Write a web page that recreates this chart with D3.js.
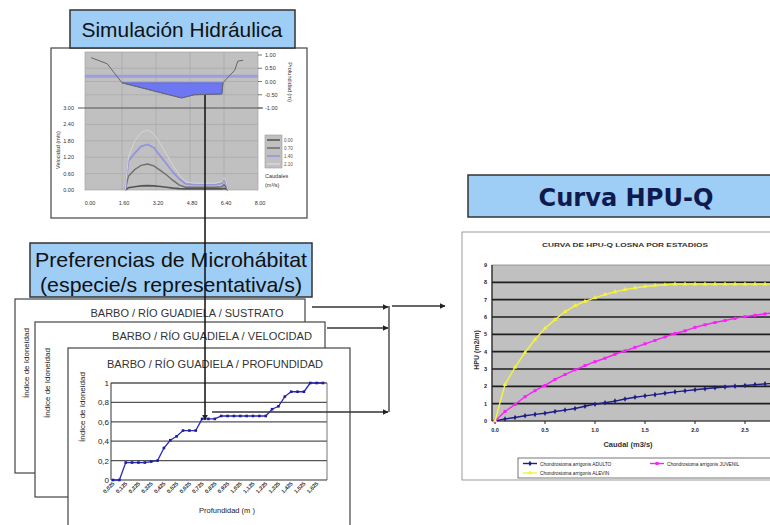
<!DOCTYPE html>
<html>
<head>
<meta charset="utf-8">
<script src="https://cdn.jsdelivr.net/npm/d3@7"></script>
<style>
  body { margin: 0; background: #fff; }
  svg { display: block; font-family: "Liberation Sans", Arial, sans-serif; }
</style>
</head>
<body>
<div id="chart"></div>
<script>
// ---- hydraulic simulation data ----
const hydXTicks = [0, 1.6, 3.2, 4.8, 6.4, 8];
const hydXLabels = ["0.00", "1.60", "3.20", "4.80", "6.40", "8.00"];
const depthTicks = [1, 0.5, 0, -0.5, -1];
const depthLabels = ["1.00", "0.50", "0.00", "-0.50", "-1.00"];
const velTicks = [3, 2.4, 1.8, 1.2, 0.6, 0];
const velLabels = ["3.00", "2.40", "1.80", "1.20", "0.60", "0.00"];

const terrainX = [0.15, 0.9, 1.6, 4.4, 5.0, 6.3, 6.35, 6.6, 6.9, 7.05, 7.3];
const terrainZ = [0.9, 0.67, -0.05, -0.62, -0.5, -0.47, -0.05, 0.17, 0.42, 0.77, 0.8];
const waterX = [1.6, 4.4, 5.0, 6.3, 6.35];
const waterZ = [-0.05, -0.62, -0.5, -0.47, -0.05];
const waterSurface = -0.05;
const bandLevel = 0.2;

const velX = [1.75, 1.9, 2.2, 2.5, 2.8, 3.1, 3.4, 3.7, 4.0, 4.3, 4.6, 5.0, 5.5, 6.0, 6.3, 6.4, 6.5, 6.6];
const flows = ["0.00", "0.70", "1.40", "2.10"];
const vel000 = [0, 0.08, 0.12, 0.15, 0.16, 0.15, 0.13, 0.1, 0.07, 0.05, 0.04, 0.04, 0.04, 0.04, 0.04, 0.06, 0.04, 0];
const vel070 = [0, 0.5, 0.75, 0.9, 0.95, 0.88, 0.72, 0.55, 0.35, 0.18, 0.1, 0.1, 0.1, 0.1, 0.12, 0.2, 0.1, 0];
const vel140 = [0, 1.05, 1.35, 1.6, 1.67, 1.55, 1.25, 0.95, 0.65, 0.4, 0.22, 0.2, 0.2, 0.2, 0.25, 0.4, 0.25, 0];
const vel210 = [0, 1.2, 1.8, 2.1, 2.2, 2.05, 1.7, 1.3, 0.9, 0.55, 0.3, 0.25, 0.25, 0.25, 0.3, 0.45, 0.3, 0];

// ---- microhabitat preference (depth) ----
const profCats = ["0,025","0,075","0,125","0,175","0,225","0,275","0,325","0,375","0,425","0,475",
  "0,525","0,575","0,625","0,675","0,725","0,775","0,825","0,875","0,925","0,975",
  "1,025","1,075","1,125","1,175","1,225","1,275","1,325","1,375","1,425","1,475",
  "1,525","1,575","1,625","1,675"];
const profIndex = [0, 0, 0.18, 0.18, 0.18, 0.18, 0.19, 0.2, 0.33, 0.41, 0.45, 0.51, 0.51, 0.51,
  0.63, 0.63, 0.63, 0.66, 0.66, 0.66, 0.66, 0.66, 0.66, 0.66, 0.66, 0.73, 0.76, 0.86, 0.91, 0.91, 0.91, 1, 1, 1];
const profYTicks = [0, 0.2, 0.4, 0.6, 0.8, 1];
const profYLabels = ["0", "0,2", "0,4", "0,6", "0,8", "1"];

// ---- HPU-Q curves ----
const hpuQ = [0,0.1,0.2,0.3,0.4,0.5,0.6,0.7,0.8,0.9,1.0,1.1,1.2,1.3,1.4,1.5,1.6,1.7,1.8,1.9,2.0,2.1,2.2,2.3,2.4,2.5,2.6,2.7,2.8];
const hpuAdulto = [0,0.12,0.2,0.3,0.38,0.45,0.55,0.63,0.72,0.85,0.97,1.05,1.15,1.27,1.37,1.45,1.52,1.6,1.68,1.74,1.8,1.86,1.92,1.96,2.01,2.05,2.1,2.14,2.17];
const hpuJuvenil = [0,0.55,0.95,1.4,1.75,2.05,2.4,2.68,2.95,3.2,3.42,3.62,3.85,4.05,4.25,4.45,4.65,4.85,5.05,5.2,5.4,5.55,5.68,5.8,5.92,6.02,6.1,6.18,6.25];
const hpuAlevin = [0,2.1,3.1,3.95,4.7,5.35,5.85,6.3,6.65,6.9,7.1,7.3,7.45,7.58,7.68,7.76,7.82,7.86,7.9,7.9,7.9,7.9,7.9,7.9,7.9,7.9,7.9,7.9,7.9];
const hpuSeries = ["Chondrostoma arrigonis  ADULTO", "Chondrostoma arrigonis  JUVENIL", "Chondrostoma arrigonis  ALEVIN"];
const hpuYTicks = [0,1,2,3,4,5,6,7,8,9];
const hpuXTicks = [0, 0.5, 1, 1.5, 2, 2.5];
const hpuXLabels = ["0.0", "0.5", "1.0", "1.5", "2.0", "2.5"];

const svg = d3.select("#chart").append("svg")
  .attr("width", 770).attr("height", 525);

const titleBlue = "#9ecdf6";

// helper for title boxes
const titleBox = (x, y, w, h) => svg.append("rect")
  .attr("x", x).attr("y", y).attr("width", w).attr("height", h)
  .attr("fill", titleBlue).attr("stroke", "#333").attr("stroke-width", 1.5);

// ================= Hydraulic simulation panel =================
svg.append("rect").attr("x", 51).attr("y", 48).attr("width", 256).attr("height", 170)
  .attr("fill", "#fff").attr("stroke", "#444").attr("stroke-width", 1.2);

const hx = d3.scaleLinear().domain([0, 8]).range([88, 258]);
const dy = d3.scaleLinear().domain([-1, 1]).range([108, 55]);
const vy = d3.scaleLinear().domain([0, 3]).range([190, 108]);

const hyd = svg.append("g");
hyd.append("rect").attr("x", 85).attr("y", 52).attr("width", 173).attr("height", 138)
  .attr("fill", "#c0c0c0").attr("stroke", "#999").attr("stroke-width", 0.6);

// gridlines
hyd.selectAll(".vg").data(hydXTicks.slice(1, -1)).join("line")
  .attr("x1", d => hx(d)).attr("x2", d => hx(d)).attr("y1", 52).attr("y2", 190)
  .attr("stroke", "#a9a9a9").attr("stroke-width", 0.8);
hyd.selectAll(".dg").data(depthTicks.slice(1, -1)).join("line")
  .attr("x1", 85).attr("x2", 258).attr("y1", d => dy(d)).attr("y2", d => dy(d))
  .attr("stroke", "#a9a9a9").attr("stroke-width", 0.8);
hyd.selectAll(".vgl").data(velTicks.slice(1, -1)).join("line")
  .attr("x1", 85).attr("x2", 258).attr("y1", d => vy(d)).attr("y2", d => vy(d))
  .attr("stroke", "#a9a9a9").attr("stroke-width", 0.8);

// water-level band
hyd.append("line").attr("x1", 85).attr("x2", 258)
  .attr("y1", dy(bandLevel)).attr("y2", dy(bandLevel))
  .attr("stroke", "#9d9de0").attr("stroke-width", 3);

// water body
const waterPts = waterX.map((x, i) => [hx(x), dy(waterZ[i])]);
hyd.append("path")
  .attr("d", d3.line()(waterPts.concat([[hx(waterX[waterX.length - 1]), dy(waterSurface)], [hx(waterX[0]), dy(waterSurface)]])) + "Z")
  .attr("fill", "#6d77f2").attr("stroke", "#5560e0").attr("stroke-width", 0.8);

// terrain profile
hyd.append("path")
  .attr("d", d3.line()(terrainX.map((x, i) => [hx(x), dy(terrainZ[i])])))
  .attr("fill", "none").attr("stroke", "#666").attr("stroke-width", 1);

// separator line between depth and velocity charts
hyd.append("line").attr("x1", 78).attr("x2", 263).attr("y1", 108).attr("y2", 108)
  .attr("stroke", "#555").attr("stroke-width", 1.2);

// velocity curves
const velColors = ["#555", "#6e6e6e", "#9494dc", "#d6d6d6"];
const velWidths = [1.6, 1.4, 1.8, 1];
[vel000, vel070, vel140, vel210].forEach((s, k) => {
  hyd.append("path")
    .attr("d", d3.line()(velX.map((x, i) => [hx(x), vy(s[i])])))
    .attr("fill", "none").attr("stroke", velColors[k]).attr("stroke-width", velWidths[k]);
});

// axes labels
const tiny = (sel) => sel.attr("font-size", 5.5).attr("fill", "#333");
hyd.selectAll(".xl").data(hydXTicks).join("text")
  .attr("x", d => hx(d) + 2).attr("y", 205).attr("text-anchor", "middle")
  .text((d, i) => hydXLabels[i]).call(tiny);
hyd.selectAll(".vl").data(velTicks).join("text")
  .attr("x", 74).attr("y", d => vy(d) + 2).attr("text-anchor", "end")
  .text((d, i) => velLabels[i]).call(tiny);
hyd.selectAll(".dl").data(depthTicks).join("text")
  .attr("x", 265).attr("y", d => dy(d) + 2)
  .text((d, i) => depthLabels[i]).call(tiny);
hyd.selectAll(".dt").data(depthTicks).join("line")
  .attr("x1", 258).attr("x2", 262).attr("y1", d => dy(d)).attr("y2", d => dy(d))
  .attr("stroke", "#555").attr("stroke-width", 0.8);
hyd.append("text").attr("transform", "translate(60,150) rotate(-90)")
  .attr("text-anchor", "middle").text("Velocidad (m/s)").call(tiny);
hyd.append("text").attr("transform", "translate(288,82) rotate(90)")
  .attr("text-anchor", "middle").text("Profundidad (m)").call(tiny);

// legend
hyd.append("rect").attr("x", 265).attr("y", 135).attr("width", 17).attr("height", 33)
  .attr("fill", "#c0c0c0").attr("stroke", "#999").attr("stroke-width", 0.6);
flows.forEach((f, i) => {
  hyd.append("line").attr("x1", 267).attr("x2", 280)
    .attr("y1", 140 + i * 8).attr("y2", 140 + i * 8)
    .attr("stroke", velColors[i]).attr("stroke-width", 1.6);
  hyd.append("text").attr("x", 284).attr("y", 142 + i * 8).text(f)
    .attr("font-size", 4.5).attr("fill", "#555");
});
hyd.append("text").attr("x", 265).attr("y", 178).text("Caudales").call(tiny);
hyd.append("text").attr("x", 265).attr("y", 187).text("(m³/s)").call(tiny);

titleBox(70, 10, 225, 38);
svg.append("text").attr("x", 182).attr("y", 37).attr("text-anchor", "middle")
  .attr("font-size", 21).attr("fill", "#111")
  .attr("textLength", 201).attr("lengthAdjust", "spacingAndGlyphs")
  .text("Simulación Hidráulica");

// ================= HPU-Q panel =================
titleBox(468, 175, 310, 42);
svg.append("text").attr("x", 626).attr("y", 206).attr("text-anchor", "middle")
  .attr("font-family", "DejaVu Sans, Verdana, sans-serif").attr("font-weight", "bold")
  .attr("font-size", 24).attr("fill", "#111a4e")
  .attr("textLength", 175).attr("lengthAdjust", "spacingAndGlyphs")
  .text("Curva HPU-Q");

svg.append("rect").attr("x", 462).attr("y", 232).attr("width", 320).attr("height", 248)
  .attr("fill", "#fff").attr("stroke", "#999").attr("stroke-width", 1);
svg.append("text").attr("x", 625).attr("y", 247).attr("text-anchor", "middle")
  .attr("font-size", 6).attr("font-weight", "bold").attr("fill", "#333")
  .attr("textLength", 166).attr("lengthAdjust", "spacingAndGlyphs")
  .text("CURVA DE HPU-Q LOSNA POR ESTADIOS");

const qx = d3.scaleLinear().domain([0, 2.75]).range([495, 770]);
const hy = d3.scaleLinear().domain([0, 9]).range([421, 265]);
const hpu = svg.append("g");
hpu.append("rect").attr("x", 492).attr("y", hy(9)).attr("width", 290).attr("height", hy(0) - hy(9))
  .attr("fill", "#c0c0c0").attr("stroke", "#888").attr("stroke-width", 0.8);
hpu.selectAll(".hg").data(hpuYTicks.slice(1, -1)).join("line")
  .attr("x1", 492).attr("x2", 775).attr("y1", d => hy(d)).attr("y2", d => hy(d))
  .attr("stroke", "#1e1e1e").attr("stroke-width", 1.6);
hpu.append("line").attr("x1", 492).attr("x2", 775).attr("y1", hy(0)).attr("y2", hy(0))
  .attr("stroke", "#222").attr("stroke-width", 1.2);
hpu.append("line").attr("x1", 492).attr("x2", 492).attr("y1", hy(9)).attr("y2", hy(0))
  .attr("stroke", "#222").attr("stroke-width", 1.2);
hpu.selectAll(".yt").data(hpuYTicks).join("text")
  .attr("x", 487).attr("y", d => hy(d) + 2).attr("text-anchor", "end")
  .attr("font-size", 5.5).attr("font-weight", "bold").attr("fill", "#222").text(d => d);
hpu.selectAll(".xtm").data(hpuXTicks).join("line")
  .attr("x1", d => qx(d)).attr("x2", d => qx(d)).attr("y1", hy(0)).attr("y2", hy(0) + 3)
  .attr("stroke", "#222");
hpu.selectAll(".xt").data(hpuXTicks).join("text")
  .attr("x", d => qx(d)).attr("y", 432).attr("text-anchor", "middle")
  .attr("font-size", 5.5).attr("font-weight", "bold").attr("fill", "#222")
  .text((d, i) => hpuXLabels[i]);
hpu.append("text").attr("x", 628).attr("y", 447).attr("text-anchor", "middle")
  .attr("font-size", 7.5).attr("font-weight", "bold").attr("fill", "#333").text("Caudal (m3/s)");
hpu.append("text").attr("transform", "translate(479,350) rotate(-90)").attr("text-anchor", "middle")
  .attr("font-size", 7).attr("font-weight", "bold").attr("fill", "#333").text("HPU (m2/m)");

const hpuColors = ["#1d1d86", "#ff1cff", "#f4f43c"];
const hpuSym = [d3.symbolDiamond, d3.symbolSquare, d3.symbolTriangle];
const hpuClip = svg.append("clipPath").attr("id", "hpuclip").append("rect")
  .attr("x", 490).attr("y", 255).attr("width", 290).attr("height", 172);
[hpuAdulto, hpuJuvenil, hpuAlevin].forEach((s, k) => {
  const g = hpu.append("g").attr("clip-path", "url(#hpuclip)");
  g.append("path").attr("d", d3.line()(hpuQ.map((q, i) => [qx(q), hy(s[i])])))
    .attr("fill", "none").attr("stroke", hpuColors[k]).attr("stroke-width", 1.4);
  g.selectAll("path.m").data(hpuQ).join("path").attr("class", "m")
    .attr("transform", (q, i) => `translate(${qx(q)},${hy(s[i])})`)
    .attr("d", d3.symbol(hpuSym[k], 9)).attr("fill", hpuColors[k]);
});

// HPU legend
svg.append("rect").attr("x", 518).attr("y", 458).attr("width", 262).attr("height", 20)
  .attr("fill", "#fff").attr("stroke", "#555").attr("stroke-width", 0.8);
const legPos = [[523, 463.5], [650, 463.5], [523, 473]];
hpuSeries.forEach((name, k) => {
  const [lx, ly] = legPos[k];
  svg.append("line").attr("x1", lx).attr("x2", lx + 14).attr("y1", ly).attr("y2", ly)
    .attr("stroke", hpuColors[k]).attr("stroke-width", 1.4);
  svg.append("path").attr("transform", `translate(${lx + 7},${ly})`)
    .attr("d", d3.symbol(hpuSym[k], 9)).attr("fill", hpuColors[k]);
  svg.append("text").attr("x", lx + 17).attr("y", ly + 2).text(name)
    .attr("font-size", 4.8).attr("fill", "#222");
});

// ================= Microhabitat preference panels =================
const idLabel = (x, y) => svg.append("text")
  .attr("transform", `translate(${x},${y}) rotate(-90)`).attr("text-anchor", "middle")
  .attr("font-size", 8).attr("fill", "#222").text("Índice de Idoneidad");
const panelTitle = (x, y, len, t) => svg.append("text")
  .attr("x", x).attr("y", y).attr("text-anchor", "middle")
  .attr("font-size", 10).attr("fill", "#333")
  .attr("textLength", len).attr("lengthAdjust", "spacingAndGlyphs").text(t);

// sustrato
svg.append("rect").attr("x", 15).attr("y", 299).attr("width", 290).attr("height", 174)
  .attr("fill", "#fff").attr("stroke", "#444").attr("stroke-width", 1.2);
panelTitle(187, 317, 193, "BARBO / RÍO GUADIELA / SUSTRATO");
idLabel(29, 363);

// velocidad
svg.append("rect").attr("x", 35).attr("y", 322).attr("width", 290).attr("height", 175)
  .attr("fill", "#fff").attr("stroke", "#444").attr("stroke-width", 1.2);
panelTitle(212, 340, 200, "BARBO / RÍO GUADIELA / VELOCIDAD");
idLabel(50, 383);

// profundidad
svg.append("rect").attr("x", 68).attr("y", 348).attr("width", 282).attr("height", 190)
  .attr("fill", "#fff").attr("stroke", "#444").attr("stroke-width", 1.2);
panelTitle(215, 368, 216, "BARBO / RÍO GUADIELA / PROFUNDIDAD");
idLabel(85, 407);

const px = d3.scalePoint().domain(profCats).range([113, 323]);
const py = d3.scaleLinear().domain([0, 1]).range([480, 383]);
const prof = svg.append("g");
prof.selectAll(".pg").data(profYTicks.slice(1)).join("line")
  .attr("x1", 111).attr("x2", 327).attr("y1", d => py(d)).attr("y2", d => py(d))
  .attr("stroke", "#555").attr("stroke-width", 1.3);
prof.append("line").attr("x1", 327).attr("x2", 327).attr("y1", py(1)).attr("y2", py(0))
  .attr("stroke", "#777").attr("stroke-width", 1);
prof.append("line").attr("x1", 111).attr("x2", 111).attr("y1", py(1)).attr("y2", py(0))
  .attr("stroke", "#333").attr("stroke-width", 1);
prof.append("line").attr("x1", 111).attr("x2", 327).attr("y1", py(0)).attr("y2", py(0))
  .attr("stroke", "#333").attr("stroke-width", 1.2);
prof.selectAll(".pyl").data(profYTicks).join("text")
  .attr("x", 109).attr("y", d => py(d) + 3).attr("text-anchor", "end")
  .attr("font-size", 8).attr("fill", "#222").text((d, i) => profYLabels[i]);
prof.selectAll(".pxl").data(profCats.filter((c, i) => i % 2 === 0)).join("text")
  .attr("transform", d => `translate(${px(d) + 2},${py(0) + 4}) rotate(-45)`)
  .attr("text-anchor", "end").attr("font-size", 5.5).attr("font-weight", "bold").attr("fill", "#333")
  .text(d => d);
prof.append("text").attr("x", 227).attr("y", 513).attr("text-anchor", "middle")
  .attr("font-size", 7.5).attr("fill", "#222").text("Profundidad (m )");
prof.append("path")
  .attr("d", d3.line()(profCats.map((c, i) => [px(c), py(profIndex[i])])))
  .attr("fill", "none").attr("stroke", "#2b2bb5").attr("stroke-width", 1.3);
prof.selectAll("rect.pm").data(profCats).join("rect").attr("class", "pm")
  .attr("x", d => px(d) - 1.3).attr("y", (d, i) => py(profIndex[i]) - 1.3)
  .attr("width", 2.6).attr("height", 2.6).attr("fill", "#1e1e9c");

// preferencias title box
titleBox(30, 243, 282, 54);
svg.append("text").attr("x", 171).attr("y", 267).attr("text-anchor", "middle")
  .attr("font-size", 21).attr("fill", "#111")
  .attr("textLength", 272).attr("lengthAdjust", "spacingAndGlyphs")
  .text("Preferencias de Microhábitat");
svg.append("text").attr("x", 171).attr("y", 292).attr("text-anchor", "middle")
  .attr("font-size", 21).attr("fill", "#111")
  .attr("textLength", 262).attr("lengthAdjust", "spacingAndGlyphs")
  .text("(especie/s representativa/s)");

// ================= connectors =================
const defs = svg.append("defs");
defs.append("marker").attr("id", "arr").attr("viewBox", "0 0 10 10")
  .attr("refX", 9).attr("refY", 5).attr("markerWidth", 6).attr("markerHeight", 6)
  .attr("markerUnits", "userSpaceOnUse").attr("orient", "auto")
  .append("path").attr("d", "M0,0L10,5L0,10Z").attr("fill", "#222");

const conn = svg.append("g").attr("stroke", "#333").attr("stroke-width", 1.3).attr("fill", "none");
conn.append("line").attr("x1", 312).attr("x2", 388).attr("y1", 307).attr("y2", 307).attr("marker-end", "url(#arr)");
conn.append("line").attr("x1", 327).attr("x2", 388).attr("y1", 328).attr("y2", 328).attr("marker-end", "url(#arr)");
conn.append("line").attr("x1", 212).attr("x2", 388).attr("y1", 412).attr("y2", 412).attr("marker-end", "url(#arr)");
conn.append("line").attr("x1", 389).attr("x2", 389).attr("y1", 306).attr("y2", 412);
conn.append("line").attr("x1", 392).attr("x2", 445).attr("y1", 306).attr("y2", 306).attr("marker-end", "url(#arr)");
conn.append("line").attr("x1", 205).attr("x2", 205).attr("y1", 95).attr("y2", 420)
  .attr("stroke", "#111").attr("stroke-width", 1.5).attr("marker-end", "url(#arr)");
</script>
</body>
</html>
